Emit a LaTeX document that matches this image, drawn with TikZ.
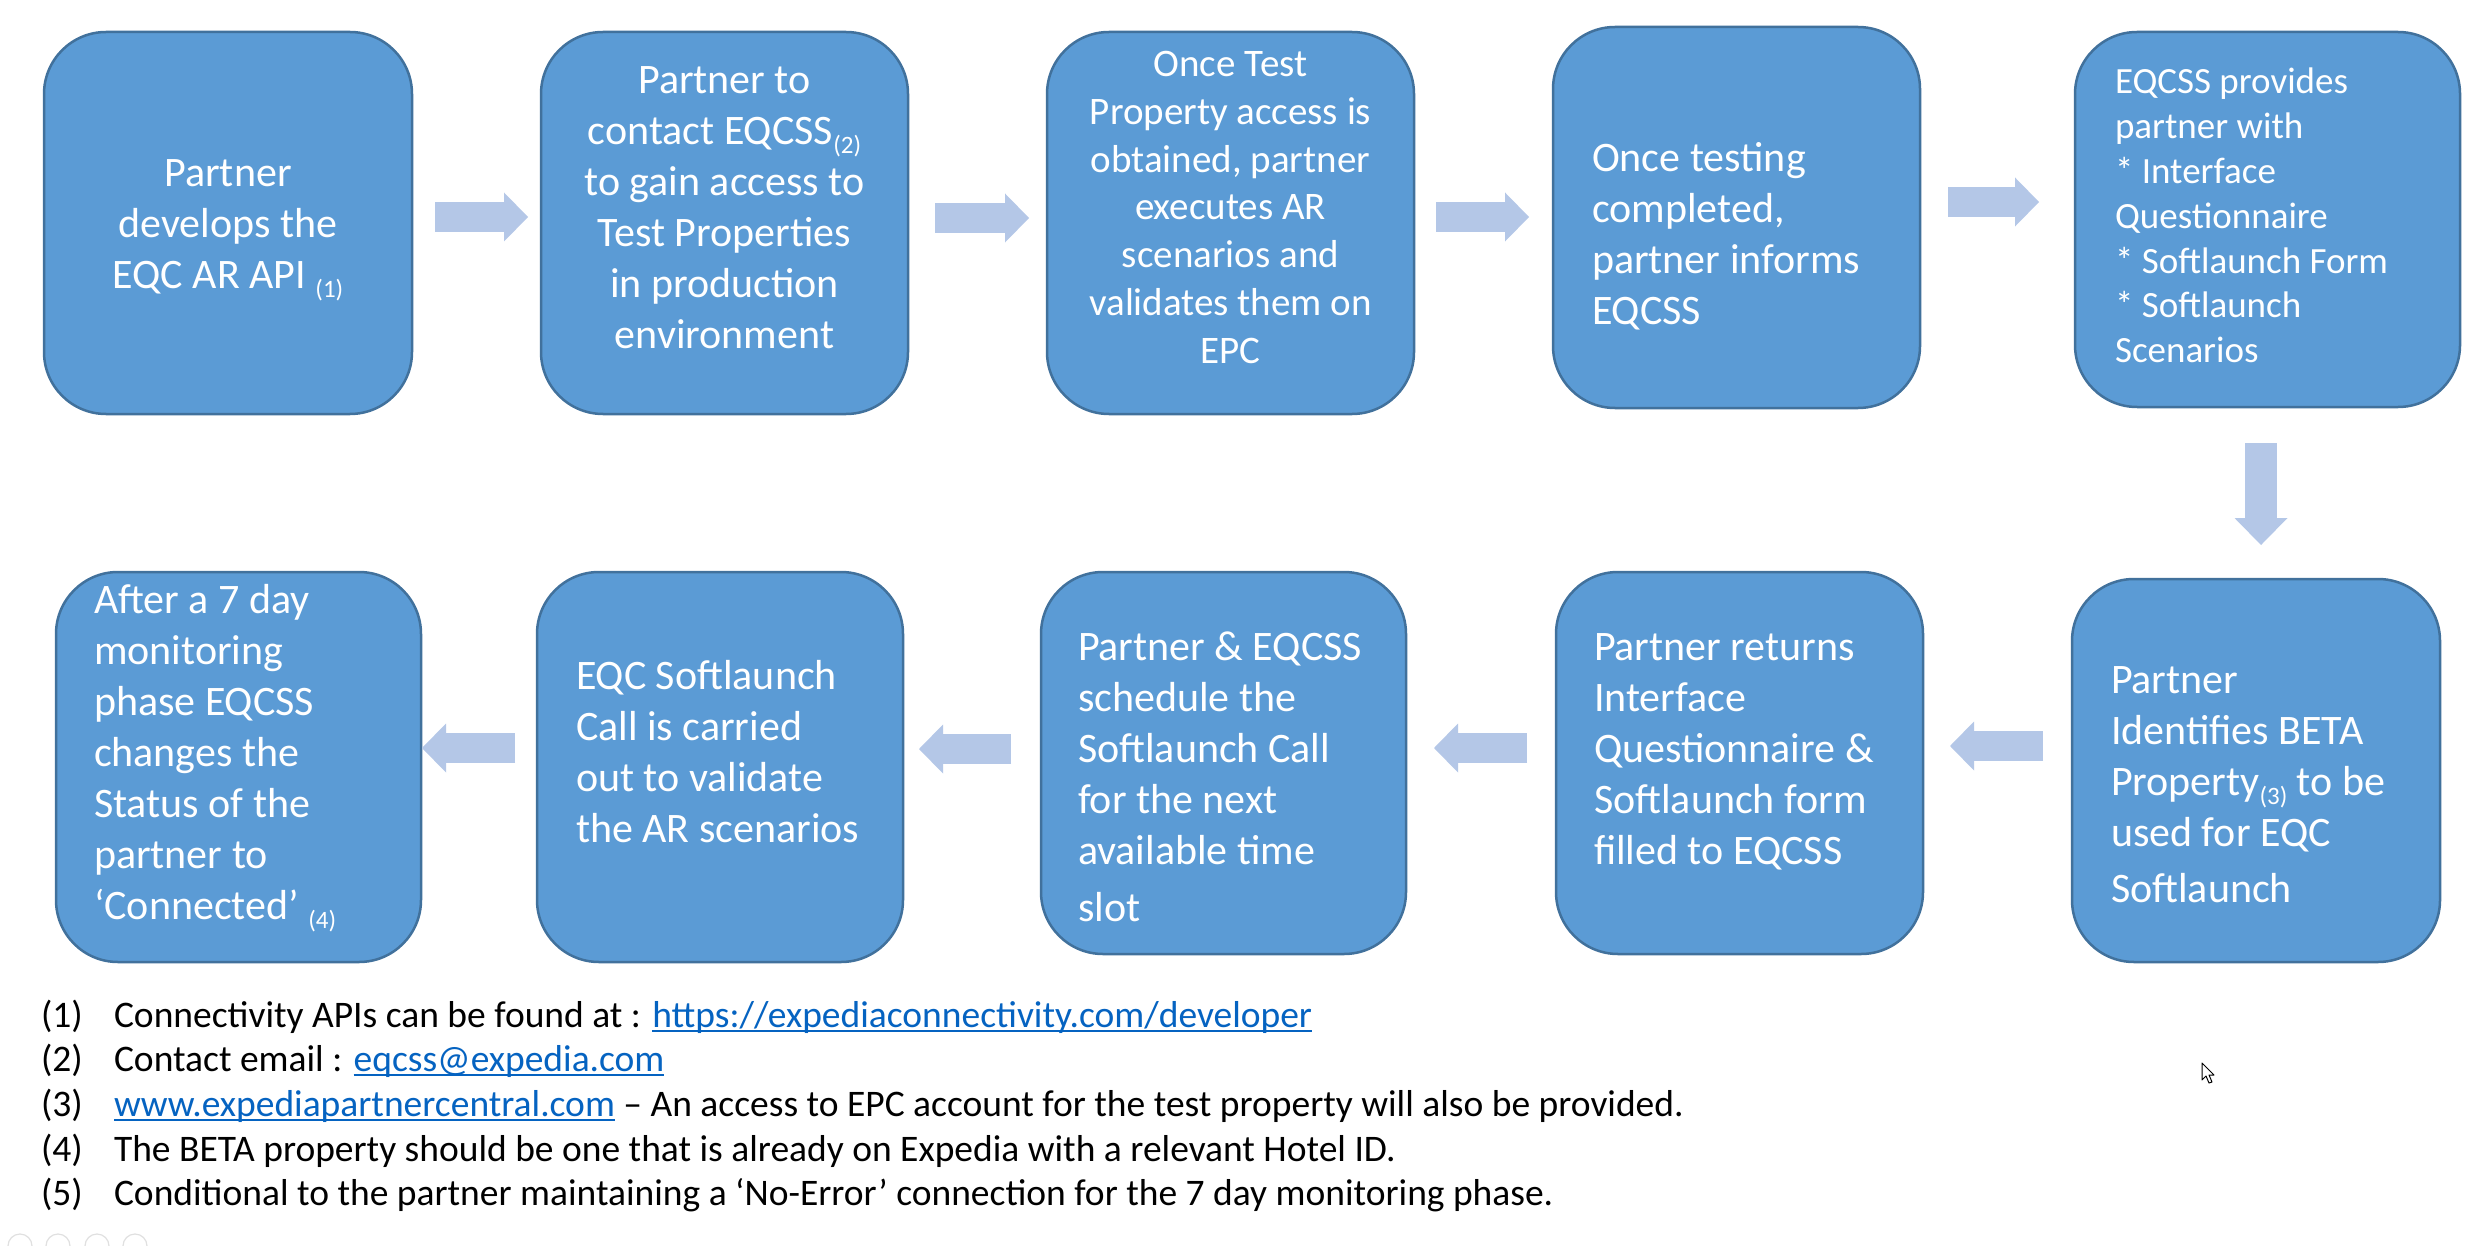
\documentclass[tikz,border=0pt]{standalone}
\usepackage{fontspec}
\setmainfont{Carlito}
\usetikzlibrary{arrows.meta,calc}
\definecolor{boxfill}{HTML}{5B9BD5}
\definecolor{boxline}{HTML}{41719C}
\definecolor{arrowc}{HTML}{B4C7E7}
\definecolor{linkc}{HTML}{0563C1}
\newcommand\mylink[1]{{\color{linkc}\setbox0=\hbox{#1}\rlap{\rule[-5pt]{\wd0}{2.2pt}}\box0}}
\newcommand\fnref[1]{\raisebox{-9pt}{\fontsize{25}{25}\selectfont(#1)}}
\tikzset{
  box/.style={draw=boxline, fill=boxfill, line width=2.5pt, rounded corners=62pt, inner sep=0pt, outer sep=0pt},
  txt/.style={text=white, inner sep=0pt, outer sep=0pt, font=\fontsize{42}{51}\selectfont},
  lt/.style={txt, anchor=north west, align=left},
  ct/.style={txt, anchor=north, align=center},
  barrow/.style={draw=arrowc, line width=30pt, -{Triangle[width=49pt,length=24pt,line width=0pt]}},
  darrow/.style={draw=arrowc, line width=32pt, -{Triangle[width=53pt,length=27pt,line width=0pt]}},
  fnt/.style={anchor=base west, inner sep=0pt, outer sep=0pt, font=\fontsize{37.5}{44}\selectfont},
  ghost/.style={draw=black!12, line width=1.2pt}
}
\begin{document}
\begin{tikzpicture}[x=1pt,y=-1pt]
\fill[white] (0,0) rectangle (2476,1246);
\useasboundingbox (0,0) rectangle (2476,1246);

% boxes, row 1
\node[box, minimum width=368pt, minimum height=382pt] (b1) at (228,223) {};
\node[box, minimum width=367pt, minimum height=382pt] (b2) at (724.5,223) {};
\node[box, minimum width=367pt, minimum height=382pt] (b3) at (1230.5,223) {};
\node[box, minimum width=367pt, minimum height=381pt] (b4) at (1736.5,217.5) {};
\node[box, minimum width=385pt, minimum height=375pt] (b5) at (2267.5,219.5) {};
% boxes, row 2
\node[box, minimum width=365pt, minimum height=390pt] (b6) at (238.5,767) {};
\node[box, minimum width=366pt, minimum height=390pt] (b7) at (720,767) {};
\node[box, minimum width=365pt, minimum height=382pt] (b8) at (1223.5,763) {};
\node[box, minimum width=367pt, minimum height=382pt] (b9) at (1739.5,763) {};
\node[box, minimum width=368pt, minimum height=383pt] (b10) at (2256,770.5) {};

% texts
\node[ct] (t1) at (228,151) {\strut Partner\\develops the\\EQC AR API \fnref{1}};
\node[ct] (t2) at (724.5,58) {\strut Partner to\\contact EQCSS\fnref{2}\\to gain access to\\Test Properties\\in production\\environment};
\node[ct, font=\fontsize{39}{47.8}\selectfont] (t3) at (1230.5,43) {\strut Once Test\\Property access is\\obtained, partner\\executes AR\\scenarios and\\validates them on\\EPC};
\node[lt] (t4) at (1592,136) {\strut Once testing\\completed,\\partner informs\\EQCSS};
\node[lt, font=\fontsize{37}{44.8}\selectfont] (t5) at (2115,62.5) {\strut EQCSS provides\\partner with\\* Interface\\Questionnaire\\* Softlaunch Form\\* Softlaunch\\Scenarios};
\node[lt] (t6) at (94,578) {\strut After a 7 day\\monitoring\\phase EQCSS\\changes the\\Status of the\\partner to\\‘Connected’ \fnref{4}};
\node[lt] (t7) at (576,654) {\strut EQC Softlaunch\\Call is carried\\out to validate\\the AR scenarios};
\node[lt] (t8) at (1078,625) {\strut Partner \& EQCSS\\schedule the\\Softlaunch Call\\for the next\\available time\\[6pt]slot};
\node[lt] (t9) at (1594,625) {\strut Partner returns\\Interface\\Questionnaire \&\\Softlaunch form\\filled to EQCSS};
\node[lt] (t10) at (2111,658) {\strut Partner\\Identifies BETA\\Property\fnref{3} to be\\used for EQC\\[5pt]Softlaunch};

% block arrows
\draw[barrow] ([shift={(23,-6)}]b1.east) -- ([shift={(-13,-6)}]b2.west);
\draw[barrow] ([shift={(27,-5)}]b2.east) -- ([shift={(-18,-5)}]b3.west);
\draw[barrow] ([shift={(22,-6)}]b3.east) -- ([shift={(-24,-0.5)}]b4.west);
\draw[barrow] ([shift={(28,-15.5)}]b4.east) -- ([shift={(-36,-17.5)}]b5.west);
\draw[darrow] ([shift={(-6.5,36)}]b5.south) -- ([shift={(5,-34)}]b10.north);
\draw[barrow] ([shift={(-29,-24.5)}]b10.west) -- ([shift={(27,-17)}]b9.east);
\draw[barrow] ([shift={(-29,-15)}]b9.west) -- ([shift={(28,-15)}]b8.east);
\draw[barrow] ([shift={(-30,-14)}]b8.west) -- ([shift={(16,-18)}]b7.east);
\draw[barrow] ([shift={(-22,-19)}]b7.west) -- ([shift={(1,-19)}]b6.east);

% footnotes
\node[fnt] (n1) at (41,1027) {(1)};
\node[fnt] (f1) at (114,1027) {Connectivity APIs can be found at : \mylink{https://expediaconnectivity.com/developer}};
\node[fnt] (n2) at (41,1071) {(2)};
\node[fnt] (f2) at (114,1071) {Contact email : \mylink{eqcss@expedia.com}};
\node[fnt] (n3) at (41,1116) {(3)};
\node[fnt] (f3) at (114,1116) {\mylink{www.expediapartnercentral.com} – An access to EPC account for the test property will also be provided.};
\node[fnt] (n4) at (41,1161) {(4)};
\node[fnt] (f4) at (114,1161) {The BETA property should be one that is already on Expedia with a relevant Hotel ID.};
\node[fnt] (n5) at (41,1205) {(5)};
\node[fnt] (f5) at (114,1205) {Conditional to the partner maintaining a ‘No-Error’ connection for the 7 day monitoring phase.};

% faint controls at the bottom left
\draw[ghost] (20,1246) circle[radius=12pt];
\draw[ghost] (58,1246) circle[radius=12pt];
\draw[ghost] (97,1246) circle[radius=12pt];
\draw[ghost] (135,1246) circle[radius=12pt];

% mouse pointer
\draw[fill=white, line width=1pt, line join=round] (2202,1063) -- (2202,1080) -- (2206,1076) -- (2209,1083) -- (2212,1082) -- (2209,1075) -- (2214,1075) -- cycle;
\end{tikzpicture}
\end{document}
